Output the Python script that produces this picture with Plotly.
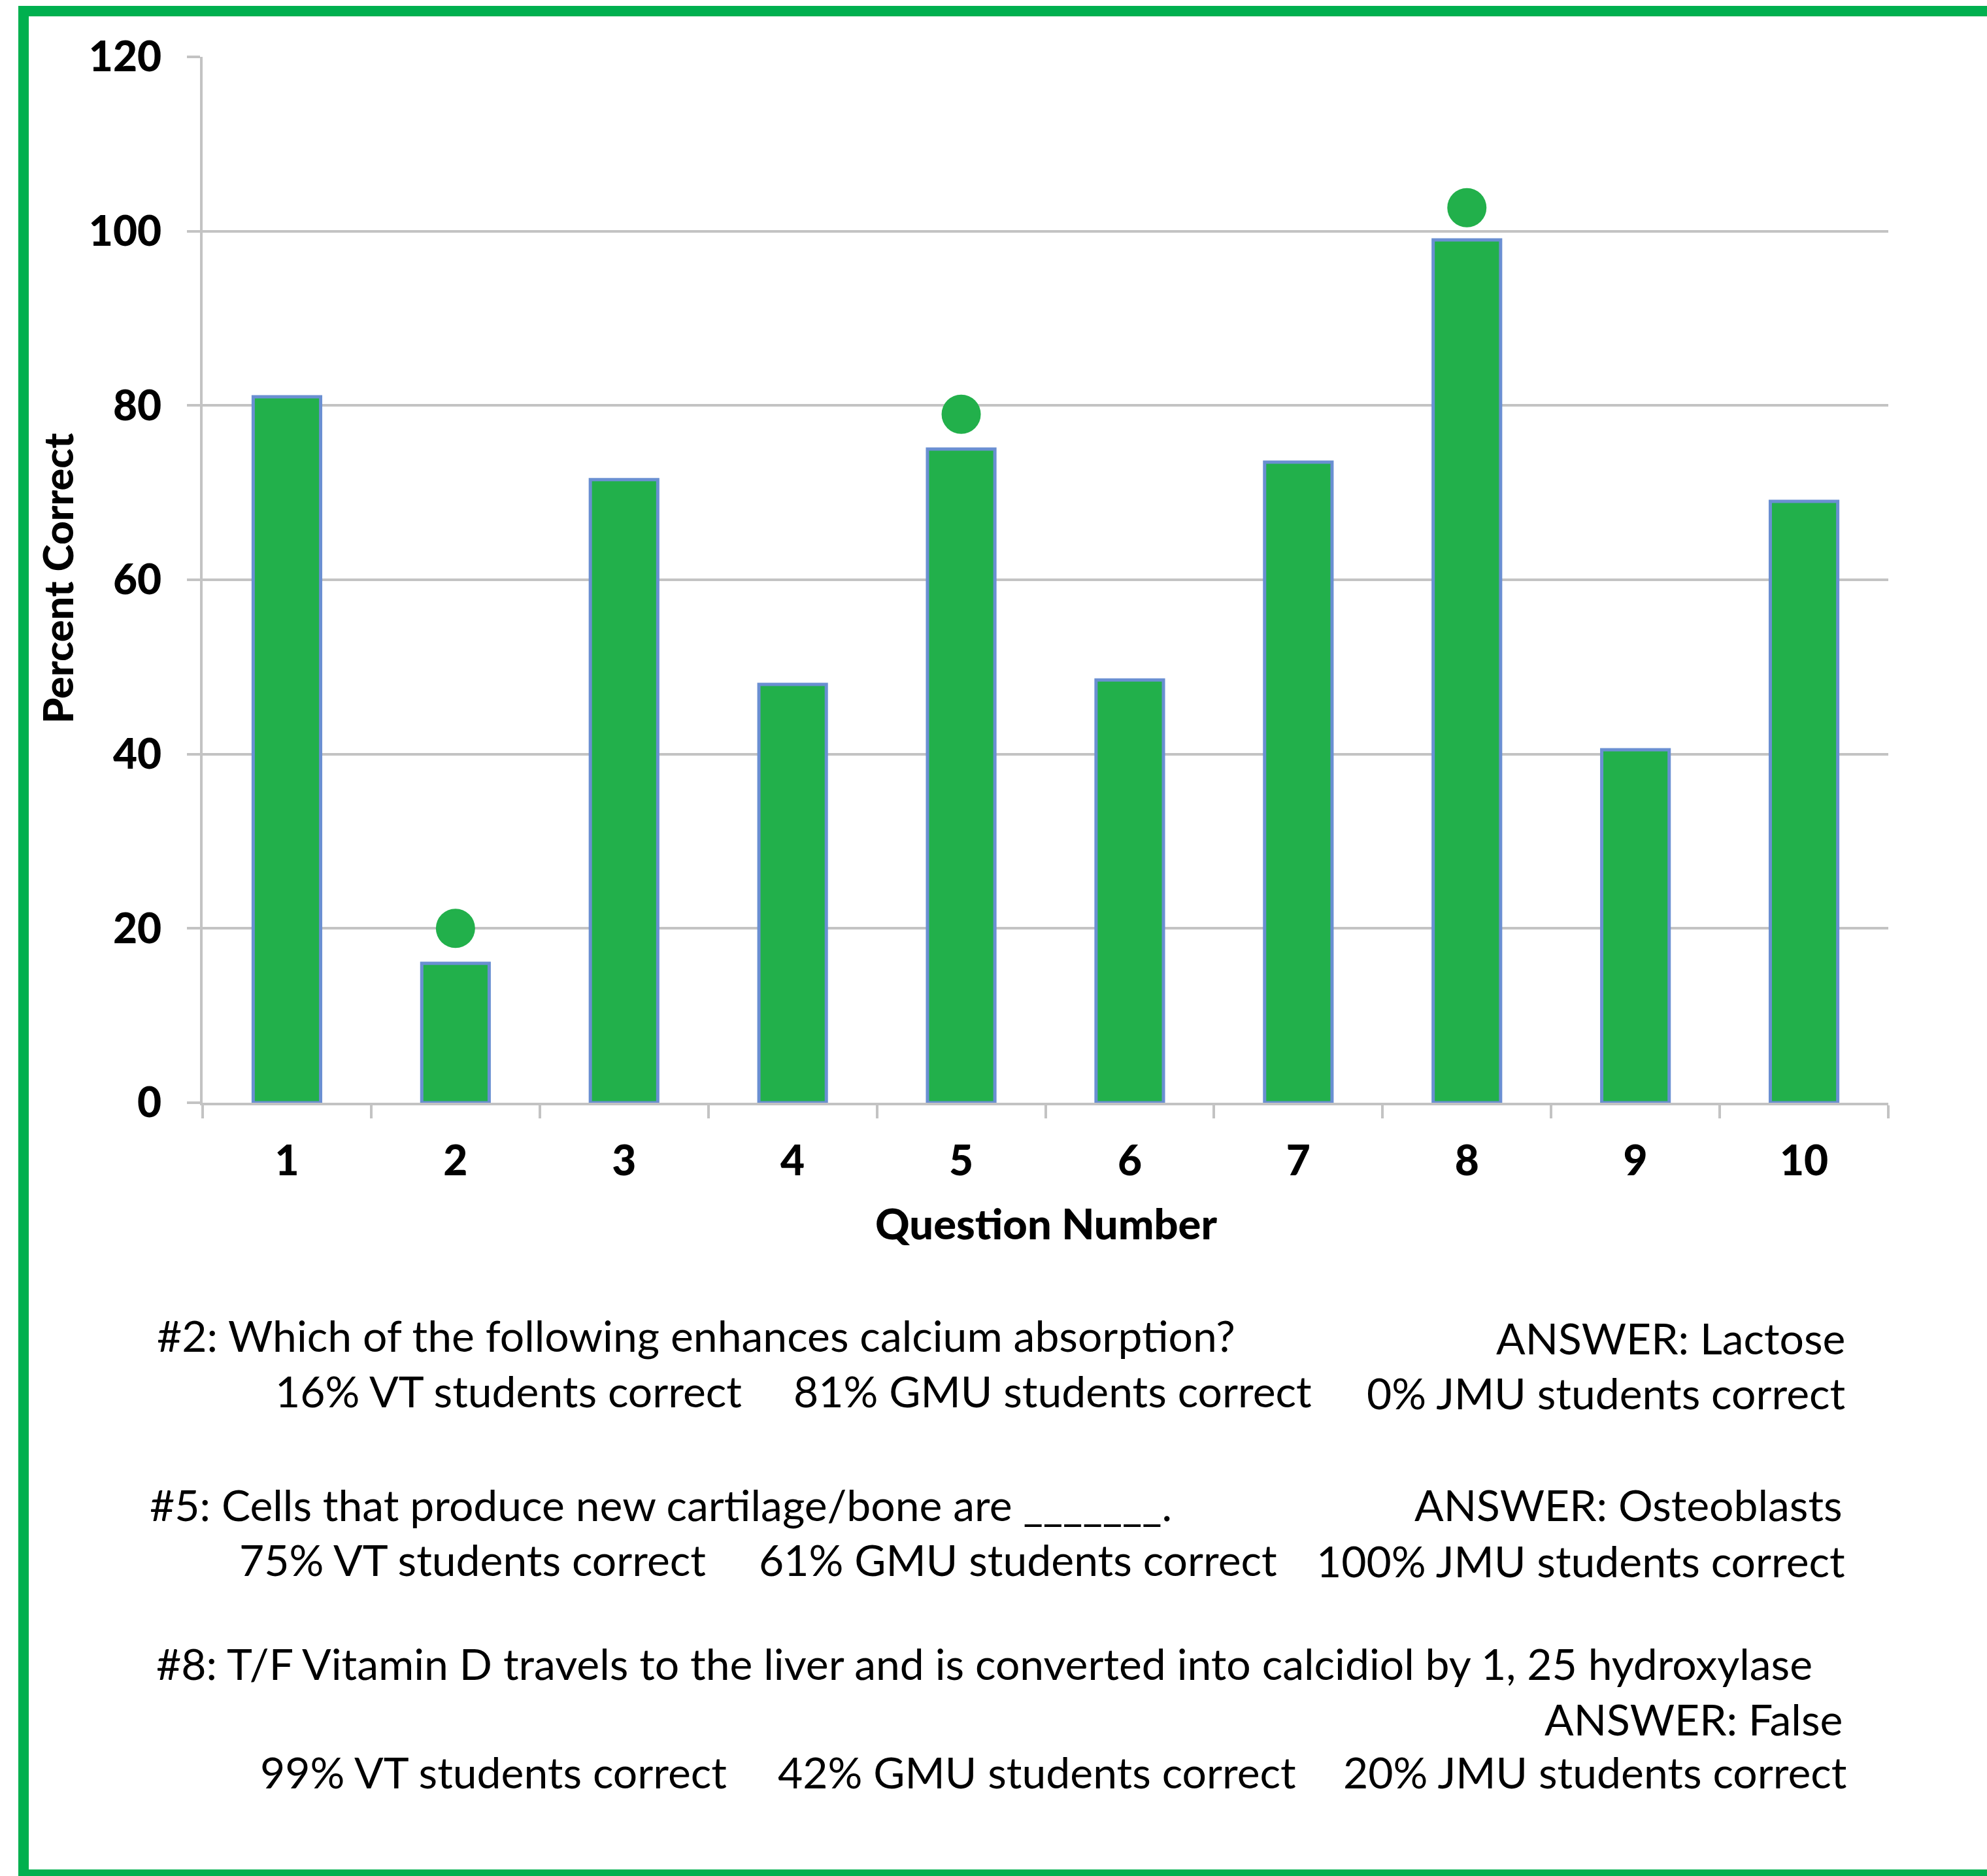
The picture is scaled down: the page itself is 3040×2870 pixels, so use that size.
import plotly.graph_objects as go

# ---- data ----
questions = ["1", "2", "3", "4", "5", "6", "7", "8", "9", "10"]
percent_correct = [81, 16, 71.5, 48, 75, 48.5, 73.5, 99, 40.5, 69]
highlight_questions = ["2", "5", "8"]
highlight_marks = [20, 79, 102.7]
y_ticks = [0, 20, 40, 60, 80, 100, 120]

note_questions = [
    "#2: Which of the following enhances calcium absorption?",
    "#5: Cells that produce new cartilage/bone are _______.",
    "#8: T/F Vitamin D travels to the liver and is converted into calcidiol by 1, 25 hydroxylase",
]
note_answers = ["ANSWER: Lactose", "ANSWER: Osteoblasts", "ANSWER: False"]
vt_pct = [16, 75, 99]
gmu_pct = [81, 61, 42]
jmu_pct = [0, 100, 20]

# ---- geometry (pixels) ----
W, H = 3040, 2870
L, R, T, B = 310, 2889, 87, 1687

def px(x):
    return (x - L) / (R - L)

def py(y):
    return (B - y) / (B - T)

GREEN = "#22b04b"
FRAME = "#00b04f"
GRID = "#c3c3c3"

fig = go.Figure()
fig.add_trace(go.Bar(
    x=questions, y=percent_correct, width=0.4,
    marker=dict(color=GREEN, line=dict(color="#6a8fd2", width=5)),
    showlegend=False,
))
fig.add_trace(go.Scatter(
    x=highlight_questions, y=highlight_marks, mode="markers",
    marker=dict(color=GREEN, size=60, line=dict(width=0)),
    cliponaxis=False, showlegend=False,
))

bold = dict(family="Lato", size=64, color="black", weight=900)
fig.update_layout(
    width=W, height=H,
    margin=dict(l=L, r=W - R, t=T, b=H - B, pad=0),
    paper_bgcolor="white", plot_bgcolor="white",
    xaxis=dict(
        type="category", range=[-0.5, 9.5], tickson="boundaries",
        ticks="outside", ticklen=20, tickwidth=4, tickcolor=GRID,
        showline=True, linecolor=GRID, linewidth=4, showgrid=False,
        tickfont=bold, ticklabelstandoff=30,
    ),
    yaxis=dict(
        range=[0, 120], tickvals=y_ticks, ticks="outside", ticklen=20,
        tickwidth=4, tickcolor=GRID, showline=True, linecolor=GRID,
        linewidth=4, showgrid=True, gridcolor=GRID, gridwidth=4,
        zeroline=False, tickfont=bold, ticklabelstandoff=26,
    ),
    font=dict(family="Lato", color="black"),
)

ann = []
# axis titles
ann.append(dict(text="Question Number", x=px(1600), y=py(1871), xref="paper", yref="paper",
                showarrow=False, xanchor="center", yanchor="middle",
                font=dict(family="Lato", size=65, color="black", weight=900)))
ann.append(dict(text="Percent Correct", x=px(87), y=py(885), xref="paper", yref="paper",
                showarrow=False, xanchor="center", yanchor="middle", textangle=-90,
                font=dict(family="Lato", size=63, color="black", weight=900)))

reg = dict(family="Lato", size=66, color="black")

def txt(s, x, y, anchor):
    ann.append(dict(text=s, x=px(x), y=py(y), xref="paper", yref="paper",
                    showarrow=False, xanchor=anchor, yanchor="middle", font=reg))

# note block #2
txt(note_questions[0], 238, 2042, "left")
txt(note_answers[0], 2825, 2046, "right")
txt(f"{vt_pct[0]}% VT students correct", 419, 2127, "left")
txt(f"{gmu_pct[0]}% GMU students correct", 1212, 2127, "left")
txt(f"{jmu_pct[0]}% JMU students correct", 2825, 2130, "right")
# note block #5
txt(note_questions[1], 227, 2301, "left")
txt(note_answers[1], 2821, 2301, "right")
txt(f"{vt_pct[1]}% VT students correct", 364, 2385, "left")
txt(f"{gmu_pct[1]}% GMU students correct", 1159, 2385, "left")
txt(f"{jmu_pct[1]}% JMU students correct", 2825, 2387, "right")
# note block #8
txt(note_questions[2], 237, 2544, "left")
txt(note_answers[2], 2821, 2629, "right")
txt(f"{vt_pct[2]}% VT students correct", 396, 2710, "left")
txt(f"{gmu_pct[2]}% GMU students correct", 1188, 2710, "left")
txt(f"{jmu_pct[2]}% JMU students correct", 2827, 2710, "right")

fig.update_layout(annotations=ann)

# green frame (right side is cut off in the original)
shapes = [
    dict(type="rect", xref="paper", yref="paper", x0=px(28), x1=px(3060), y0=py(25), y1=py(9),
         fillcolor=FRAME, line=dict(width=0), layer="above"),
    dict(type="rect", xref="paper", yref="paper", x0=px(28), x1=px(44), y0=py(2890), y1=py(9),
         fillcolor=FRAME, line=dict(width=0), layer="above"),
    dict(type="rect", xref="paper", yref="paper", x0=px(28), x1=px(3060), y0=py(2890), y1=py(2860),
         fillcolor=FRAME, line=dict(width=0), layer="above"),
]
fig.update_layout(shapes=shapes)

fig.write_html("out.html")
